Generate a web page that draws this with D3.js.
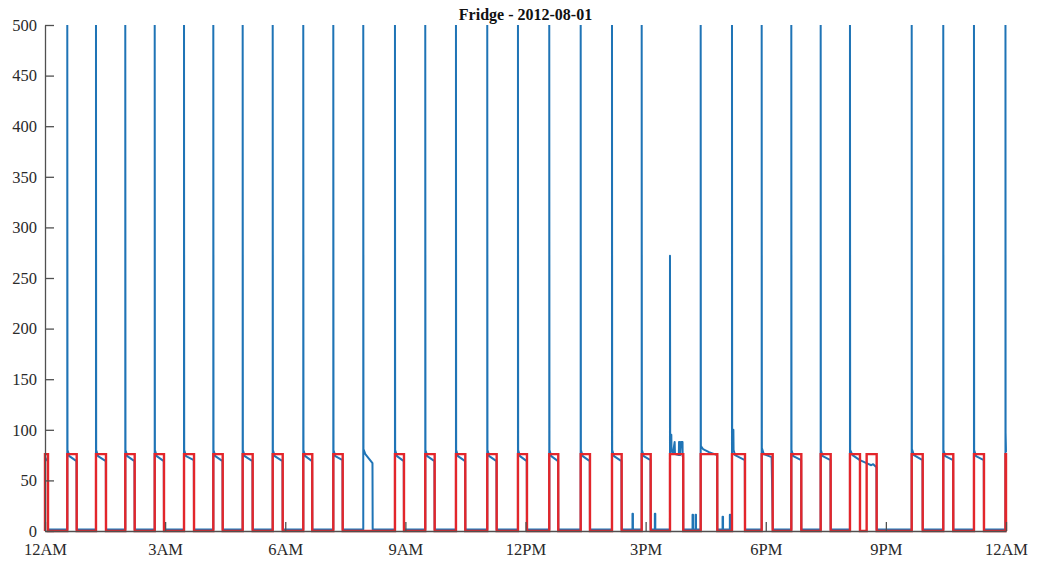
<!DOCTYPE html>
<html>
<head>
<meta charset="utf-8">
<script src="https://cdn.jsdelivr.net/npm/d3@7"></script>
<style>
  body { margin: 0; background: #fff; }
  svg { display: block; }
  .tick text { font-family: "Liberation Serif", "Times New Roman", serif; }
</style>
</head>
<body>
<svg id="chart" width="1042" height="561"></svg>
<script>
// Fridge power draw over one day (minutes after midnight, watts)
const chartTitle = "Fridge - 2012-08-01";
const yTicks = [0, 50, 100, 150, 200, 250, 300, 350, 400, 450, 500];
const xTickMinutes = [0, 180, 360, 540, 720, 900, 1080, 1260, 1440];
const xTickLabels = ["12AM", "3AM", "6AM", "9AM", "12PM", "3PM", "6PM", "9PM", "12AM"];

// Detected ON intervals of the compressor (red square wave)
const detectedOn = [0, 33.4, 76.4, 120.3, 164.4, 208.3, 252.2, 296.2, 341.2, 387, 432,
  524.4, 569.8, 615.8, 662.7, 708.7, 755.6, 802.7, 849.6, 894.1, 936.5, 982.5, 1029.4,
  1073.9, 1118.3, 1162.3, 1206.2, 1231.2, 1298.7, 1346, 1392, 1439.2];
const detectedOff = [4.5, 47.5, 91.4, 134.4, 178.3, 223.3, 266.3, 311.2, 356.2, 400.5, 446.1,
  537.9, 583.9, 629.8, 676.8, 722.2, 769.1, 816.6, 864.1, 907.6, 956.4, 1007.4, 1048.9,
  1090.4, 1133.3, 1177.3, 1221.2, 1246.2, 1315.2, 1361, 1407, 1440];
const detectedLevel = 76;

// Measured power (blue trace), [minute, watts]
const measured = [
  [0,73],[1.5,71],[4.5,69],[4.5,1.5],
  [33.4,1.5],[33.4,510],[33.7,80],[36.5,74],[47.2,69],[47.5,1.5],
  [76.4,1.5],[76.4,510],[76.7,80],[79.5,74],[91.1,69],[91.4,1.5],
  [120.3,1.5],[120.3,510],[120.6,80],[123.3,74],[134.1,69],[134.4,1.5],
  [164.4,1.5],[164.4,510],[164.7,80],[167.4,74],[178,69],[178.3,1.5],
  [208.3,1.5],[208.3,510],[208.6,80],[211.3,74],[223,70],[223.3,1.5],
  [252.2,1.5],[252.2,510],[252.5,80],[255.2,74],[266,69],[266.3,1.5],
  [296.2,1.5],[296.2,510],[296.5,80],[299.2,74],[310.9,69],[311.2,1.5],
  [341.2,1.5],[341.2,510],[341.5,80],[344.2,74],[355.9,69],[356.2,1.5],
  [387,1.5],[387,510],[387.3,80],[390,74],[400.2,69],[400.5,1.5],
  [432,1.5],[432,510],[432.3,80],[435,74],[445.8,70],[446.1,1.5],
  [476.9,1.5],[476.9,510],[477.2,81],[480,76],[490.7,67],[491,1.5],
  [524.4,1.5],[524.4,510],[524.7,80],[527.4,74],[537.6,69],[537.9,1.5],
  [569.8,1.5],[569.8,510],[570.1,80],[572.8,74],[583.6,69],[583.9,1.5],
  [615.8,1.5],[615.8,510],[616.1,80],[618.8,74],[629.5,69],[629.8,1.5],
  [662.7,1.5],[662.7,510],[663,80],[665.7,74],[676.5,69],[676.8,1.5],
  [708.7,1.5],[708.7,510],[709,80],[711.7,74],[721.9,69],[722.2,1.5],
  [755.6,1.5],[755.6,510],[755.9,80],[758.6,74],[768.8,69],[769.1,1.5],
  [802.7,1.5],[802.7,510],[803,80],[805.7,74],[816.3,69],[816.6,1.5],
  [849.6,1.5],[849.6,510],[849.9,80],[852.6,74],[863.8,69],[864.1,1.5],
  [880.3,1.5],[880.3,17],[881,17],[881,1.5],
  [894.1,1.5],[894.1,510],[894.4,80],[897.1,74],[907.3,70],[907.6,1.5],
  [913.8,1.5],[913.8,17],[914.5,17],[914.5,1.5],
  [936.5,1.5],[936.5,272],[936.8,95],[938.5,95],[938.8,79],[941,77],[943.5,88],[944,76],
  [949.8,75],[950,88],[951.3,88],[951.5,75],[953,88],[955.3,88],[955.5,74],[956.1,73],[956.4,1.5],
  [970.3,1.5],[970.3,16],[971,16],[971,1.5],[974.8,1.5],[974.8,16],[975.5,16],[975.5,1.5],
  [982.5,1.5],[982.5,510],[982.8,84],[986,81],[995,78],[1007.1,75],[1007.4,1.5],
  [1015.3,1.5],[1015.3,14],[1016,14],[1016,1.5],
  [1026.2,1.5],[1026.2,16],[1026.9,16],[1026.9,1.5],
  [1029.4,1.5],[1029.4,510],[1029.7,84],[1030.7,84],[1030.9,100],[1031.5,100],[1031.8,80],[1034,75],[1048.6,70],[1048.9,1.5],
  [1073.9,1.5],[1073.9,510],[1074.2,82],[1077,76],[1088.8,73],[1090.6,1.5],
  [1118.3,1.5],[1118.3,510],[1118.6,80],[1121.3,74],[1133,70],[1133.3,1.5],
  [1162.3,1.5],[1162.3,510],[1162.6,80],[1165.3,74],[1177,70],[1177.3,1.5],
  [1206.2,1.5],[1206.2,510],[1206.5,80],[1210,75],[1221,70],[1231,67],[1238,65],[1241,66],[1245.9,63],[1246.2,1.5],
  [1298.7,1.5],[1298.7,510],[1299,81],[1302,75],[1314.9,70],[1315.2,1.5],
  [1346,1.5],[1346,510],[1346.3,80],[1349,74],[1360.7,70],[1361,1.5],
  [1392,1.5],[1392,510],[1392.3,80],[1395,74],[1406.7,70],[1407,1.5],
  [1439.2,1.5],[1439.2,510],[1439.4,97],[1439.7,88],[1440,78]
];

const svg = d3.select("#chart");
const plotLeft = 45, plotRight = 1006, plotTop = 25, plotBottom = 531;

const x = d3.scaleLinear().domain([0, 1440]).range([plotLeft, plotRight]);
const y = d3.scaleLinear().domain([0, 500]).range([plotBottom, plotTop]);

svg.append("defs").append("clipPath").attr("id", "plotClip")
  .append("rect").attr("x", plotLeft - 2).attr("y", plotTop)
  .attr("width", plotRight - plotLeft + 4).attr("height", plotBottom - plotTop + 4);

// square wave built from the ON/OFF intervals
const wave = [];
detectedOn.forEach((on, i) => {
  wave.push([on, 0], [on, detectedLevel], [detectedOff[i], detectedLevel], [detectedOff[i], 0]);
});

const line = d3.line().x(d => x(d[0])).y(d => y(d[1]));

const plot = svg.append("g").attr("clip-path", "url(#plotClip)");

plot.append("path").datum(measured)
  .attr("d", line)
  .attr("fill", "none")
  .attr("stroke", "#1f74b6")
  .attr("stroke-width", 2)
  .attr("stroke-linejoin", "round");

plot.append("path").datum(wave)
  .attr("d", line)
  .attr("fill", "none")
  .attr("stroke", "#e3262b")
  .attr("stroke-width", 2.4)
  .attr("stroke-linejoin", "miter");

// axes (ticks point inward)
const axisColor = "#505050";
const textColor = "#2a2a2a";

const yAxis = svg.append("g")
  .attr("transform", `translate(${plotLeft},0)`)
  .call(d3.axisLeft(y).tickValues(yTicks).tickSizeInner(-9).tickSizeOuter(0).tickPadding(8));

const xAxis = svg.append("g")
  .attr("transform", `translate(0,${plotBottom})`)
  .call(d3.axisBottom(x).tickValues(xTickMinutes)
    .tickFormat((d, i) => xTickLabels[i])
    .tickSizeInner(-9).tickSizeOuter(0).tickPadding(12.5));

[yAxis, xAxis].forEach(g => {
  g.select(".domain").attr("stroke", axisColor).attr("stroke-width", 1.3);
  g.selectAll(".tick line").attr("stroke", axisColor).attr("stroke-width", 1.3);
  g.selectAll(".tick text").attr("fill", textColor).style("font-size", "16.5px");
});

svg.append("text")
  .attr("x", (plotLeft + plotRight) / 2)
  .attr("y", 20)
  .attr("text-anchor", "middle")
  .attr("font-family", "'Liberation Serif', 'Times New Roman', serif")
  .attr("font-weight", "bold")
  .attr("font-size", "16px")
  .attr("fill", "#111")
  .text(chartTitle);
</script>
</body>
</html>
